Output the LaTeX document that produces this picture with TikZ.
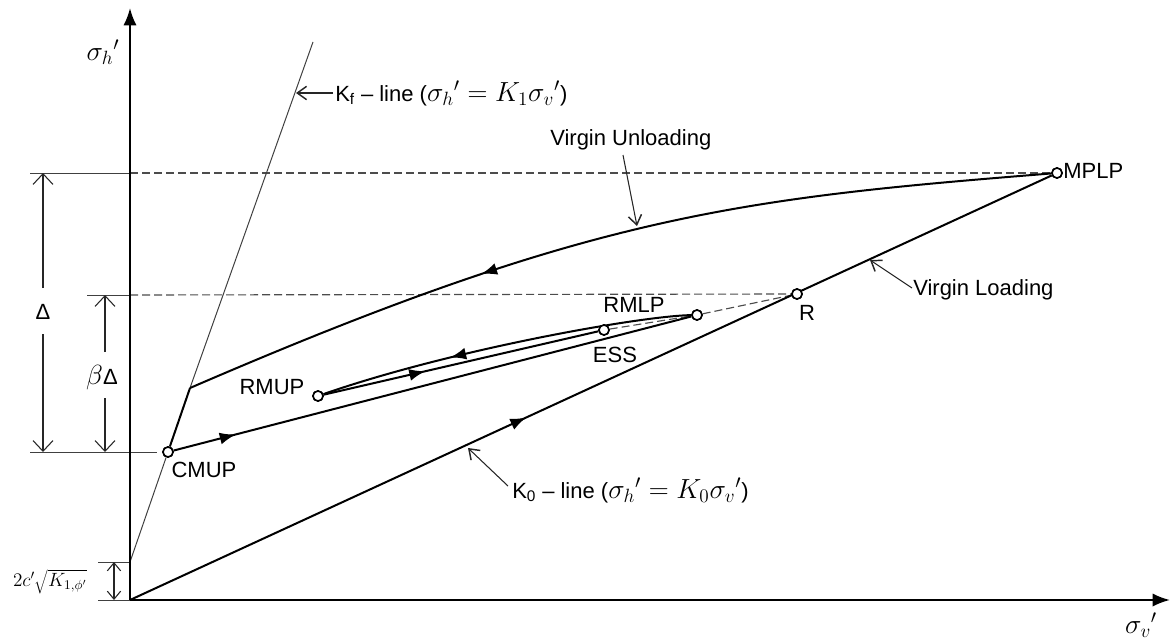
\documentclass[tikz,border=0pt]{standalone}
\usepackage{fontspec}
\setmainfont{Liberation Sans}
\usetikzlibrary{arrows.meta,decorations.markings}
\tikzset{
  curveln/.style={line width=1.5pt, black},
  axisln/.style={line width=1.7pt, black, -{Latex[length=13pt,width=10pt]}},
  thinln/.style={line width=0.75pt, black!75},
  dashln/.style={line width=0.85pt, black!70, dash pattern=on 6pt off 3pt},
  leadln/.style={line width=0.8pt, black!85, -{Straight Barb[length=7pt,width=10pt,line width=1.1pt]}},
  dimln/.style={line width=0.8pt, black!85, -{Straight Barb[length=8pt,width=15pt]}},
  pt/.style={circle, draw, fill=white, line width=1.2pt, inner sep=0pt, minimum size=7.5pt},
  lbl/.style={font=\fontsize{16.5}{19}\selectfont, inner sep=0pt},
  mlbl/.style={font=\fontsize{20}{23}\selectfont, inner sep=0pt},
  midarrow/.style={postaction={decorate}, decoration={markings,
     mark=at position #1 with {\arrow{Latex[length=12pt,width=9pt]}}}}
}
\newcommand{\bigmath}[1]{{\fontsize{20}{23}\selectfont$#1$}}
\begin{document}
\begin{tikzpicture}[x=0.75pt,y=-0.75pt]
\path[use as bounding box] (0,0) rectangle (1172,639);

% key coordinates
\coordinate (O) at (130,600);
\coordinate (Ytop) at (130,8);
\coordinate (Xend) at (1170,600);
\coordinate (KfI) at (130,562);
\coordinate (KfTop) at (313,42);
\coordinate (Kink) at (190,388);

% points
\node[pt] (MPLP) at (1057,173) {};
\node[pt] (R) at (797,294) {};
\node[pt] (RMLP) at (697,315) {};
\node[pt] (ESS) at (604,330) {};
\node[pt] (RMUP) at (318,396) {};
\node[pt] (CMUP) at (168,452) {};

% horizontal reference lines
\coordinate (h1a) at (30,173);  \coordinate (h1b) at (130,173);
\coordinate (h2a) at (87,295);  \coordinate (h2b) at (130,295);
\coordinate (h3a) at (30,452);  \coordinate (h3b) at (157,452);
\coordinate (h4a) at (98,562);
\coordinate (h5a) at (98,600);
\draw[thinln] (h1a) -- (h1b);
\draw[dashln] (h1b) -- (MPLP);
\draw[thinln] (h2a) -- (h2b);
\draw[dashln] (h2b) -- (R);
\draw[thinln] (h3a) -- (h3b);
\draw[thinln] (h4a) -- (KfI);
\draw[thinln] (h5a) -- (O);

% dashed ESS - RMLP - R
\draw[dashln] (ESS) -- (RMLP);
\draw[dashln] (RMLP) -- (R);

% Kf line
\draw[thinln] (KfI) -- (CMUP);
\draw[thinln] (Kink) -- (KfTop);

% K0 line (virgin loading)
\draw[curveln, midarrow=0.43] (O) -- (MPLP);

% virgin unloading
\draw[curveln, midarrow=0.65] (MPLP) .. controls (737,198.6) and (590,215) .. (Kink);
\draw[curveln] (Kink) -- (CMUP);

% reloading CMUP -> RMLP
\draw[curveln, midarrow=0.12] (CMUP) -- (RMLP);
% RMLP -> RMUP
\draw[curveln, midarrow=0.65] (RMLP) .. controls (640,316) and (450,350) .. (RMUP);
% RMUP -> ESS
\draw[curveln, midarrow=0.37] (RMUP) -- (ESS);

% redraw point markers on top
\foreach \p in {MPLP,R,RMLP,ESS,RMUP,CMUP} \node[pt] at (\p) {};

% axes
\draw[axisln] (O) -- (Ytop);
\draw[axisln] (O) -- (Xend);

% axis labels
\node[mlbl] (sh) at (103,52) {$\sigma_h{}'$};
\node[mlbl] (sv) at (1141,625) {$\sigma_v{}'$};

% point labels
\node[lbl, anchor=west] (tMPLP) at (1063,171) {MPLP};
\node[lbl] (tR) at (807,313) {R};
\node[lbl] (tRMLP) at (634,305) {RMLP};
\node[lbl] (tESS) at (615,355) {ESS};
\node[lbl] (tRMUP) at (272,387) {RMUP};
\node[lbl] (tCMUP) at (204,470) {CMUP};

% annotations with leaders
\node[lbl, anchor=west] (tKf) at (335,93) {K\textsubscript{f} -- line (\bigmath{\sigma_h{}' = K_1\sigma_v{}'})};
\coordinate (kfA) at (333,93); \coordinate (kfB) at (296,93);
\draw[leadln] (kfA) -- (kfB);

\node[lbl, anchor=west] (tVU) at (550,140) {Virgin Unloading};
\coordinate (vuA) at (623,155); \coordinate (vuB) at (637,226);
\draw[leadln] (vuA) -- (vuB);

\node[lbl, anchor=west] (tVL) at (913,290) {Virgin Loading};
\coordinate (vlA) at (912,288); \coordinate (vlB) at (870,260);
\draw[leadln] (vlA) -- (vlB);

\node[lbl, anchor=west] (tK0) at (512,490) {K\textsubscript{0} -- line (\bigmath{\sigma_h{}' = K_0\sigma_v{}'})};
\coordinate (k0A) at (508,486); \coordinate (k0B) at (468,448);
\draw[leadln] (k0A) -- (k0B);

% dimensions
\node[lbl] (tD) at (43,312) {Δ};
\coordinate (dTop) at (43,173); \coordinate (dBot) at (43,452);
\coordinate (dA) at (43,288); \coordinate (dB) at (43,334);
\draw[dimln] (dA) -- (dTop);
\draw[dimln] (dB) -- (dBot);

\node[lbl] (tbD) at (102,378) {\bigmath{\beta}Δ};
\coordinate (bTop) at (105,295); \coordinate (bBot) at (105,452);
\coordinate (bA) at (105,352); \coordinate (bB) at (105,398);
\draw[dimln] (bA) -- (bTop);
\draw[dimln] (bB) -- (bBot);

\coordinate (cTop) at (114,562); \coordinate (cBot) at (114,600);
\draw[line width=0.8pt, black!85, {Straight Barb[length=6pt,width=10pt]}-{Straight Barb[length=6pt,width=10pt]}] (cTop) -- (cBot);
\node[font=\fontsize{14}{16}\selectfont, inner sep=0pt] (tc) at (50,582) {$2c'\sqrt{K_{1,\phi'}}$};
\end{tikzpicture}
\end{document}
